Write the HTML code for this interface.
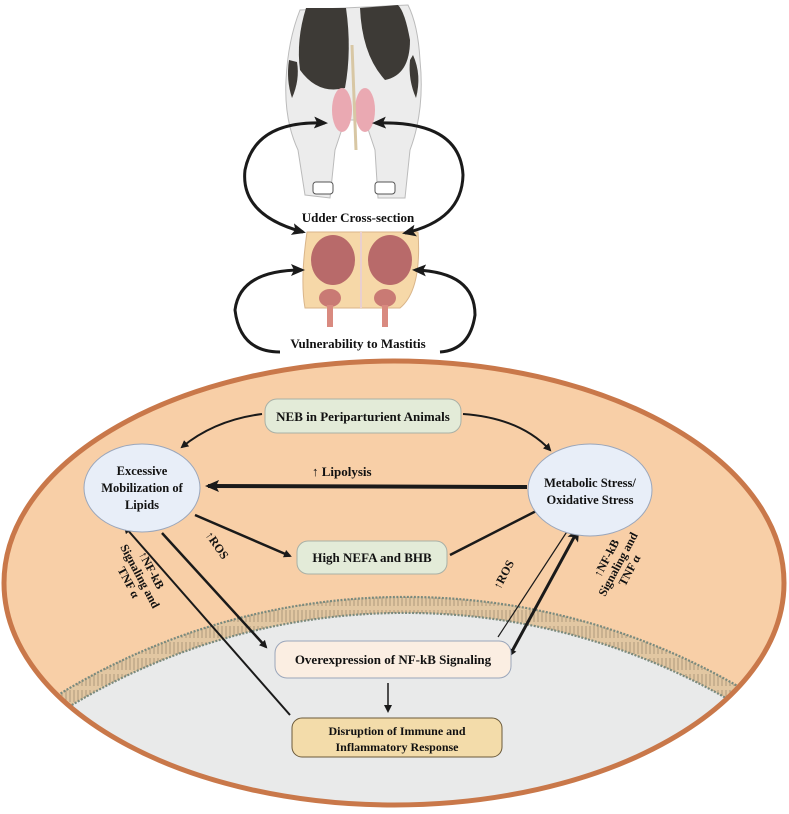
<!DOCTYPE html>
<html><head><meta charset="utf-8"><style>
html,body{margin:0;background:#fff;overflow:hidden;width:789px;height:814px;}
svg{display:block;font-family:"Liberation Serif",serif;font-weight:bold;}
</style></head><body>
<svg width="789" height="814" viewBox="0 0 789 814" xmlns="http://www.w3.org/2000/svg">
<defs>
<marker id="ah" markerWidth="8" markerHeight="8" refX="6" refY="4" orient="auto" markerUnits="userSpaceOnUse"><path d="M0,0 L8,4 L0,8 Z" fill="#1a1a1a"/></marker>
<marker id="ahb" markerWidth="14" markerHeight="12" refX="11" refY="6" orient="auto" markerUnits="userSpaceOnUse"><path d="M0,0 L14,6 L0,12 L3,6 Z" fill="#1a1a1a"/></marker>
<marker id="ahs" markerWidth="14" markerHeight="12" refX="3" refY="6" orient="auto" markerUnits="userSpaceOnUse"><path d="M14,0 L0,6 L14,12 L11,6 Z" fill="#1a1a1a"/></marker>
<clipPath id="ec"><ellipse cx="394" cy="583" rx="390" ry="222"/></clipPath>
<pattern id="mem" width="4" height="16" patternUnits="userSpaceOnUse"><rect width="4" height="16" fill="#e2c7a2"/><line x1="2" y1="2" x2="2" y2="14" stroke="#a89478" stroke-width="0.9"/></pattern>
</defs>

<!-- Cow -->
<g>
<path d="M300,10 Q288,40 286,80 Q284,120 298,150 L305,195 L330,198 L335,150 L345,120 L365,120 L375,150 L378,198 L405,198 L410,150 Q425,110 420,60 Q418,25 408,5 Z" fill="#ececec" stroke="#bbb"/>
<path d="M306,8 Q296,40 300,70 Q318,95 345,88 Q352,50 346,8 Z" fill="#3d3a36"/>
<path d="M360,8 Q362,55 385,80 Q410,75 410,40 Q405,12 398,5 Z" fill="#3d3a36"/>
<path d="M289,60 Q286,80 292,98 Q300,80 297,62 Z" fill="#3d3a36"/>
<path d="M413,55 Q422,75 416,98 Q408,80 410,60Z" fill="#3d3a36"/>
<ellipse cx="342" cy="110" rx="10" ry="22" fill="#eaa9b2"/>
<ellipse cx="365" cy="110" rx="10" ry="22" fill="#eaa9b2"/>
<path d="M352,45 L356,150" stroke="#d8c7a4" stroke-width="3"/>
<rect x="313" y="182" width="20" height="12" rx="3" fill="#fff" stroke="#555"/>
<rect x="375" y="182" width="20" height="12" rx="3" fill="#fff" stroke="#555"/>
</g>
<!-- Udder cross-section -->
<g>
<path d="M307,232 L418,232 Q422,290 400,308 L305,308 Q300,280 307,232Z" fill="#f6d8a8" stroke="#d9b58a"/>
<ellipse cx="333" cy="260" rx="22" ry="25" fill="#b86a6a"/>
<ellipse cx="390" cy="260" rx="22" ry="25" fill="#b86a6a"/>
<ellipse cx="330" cy="298" rx="11" ry="9" fill="#c97a74"/>
<ellipse cx="385" cy="298" rx="11" ry="9" fill="#c97a74"/>
<rect x="327" y="305" width="6" height="22" fill="#d98a80"/>
<rect x="382" y="305" width="6" height="22" fill="#d98a80"/>
<line x1="361" y1="232" x2="361" y2="308" stroke="#e9cfcf" stroke-width="2"/>
</g>
<!-- cow arrows -->
<g fill="none" stroke="#1a1a1a" stroke-width="3">
<path d="M325,123 Q255,120 245,170 Q240,215 303,232" marker-end="url(#ahb)" marker-start="url(#ahs)"/>
<path d="M375,123 Q460,120 463,175 Q462,220 405,233" marker-end="url(#ahb)" marker-start="url(#ahs)"/>
<path d="M302,270 Q240,270 235,310 Q240,352 280,352" marker-start="url(#ahs)"/>
<path d="M415,270 Q475,272 475,315 Q470,350 440,352" marker-start="url(#ahs)"/>
</g>
<text x="358" y="222" font-size="13" text-anchor="middle" fill="#111">Udder Cross-section</text>
<text x="358" y="348" font-size="13" text-anchor="middle" fill="#111">Vulnerability to Mastitis</text>

<!-- Big ellipse -->
<ellipse cx="394" cy="583" rx="390" ry="222" fill="#f8cfa7"/>
<g clip-path="url(#ec)">
<path d="M0,755 A648,648 0 0 1 789,739 L789,810 L0,810 Z" fill="#e9eaea"/>
<path d="M0,745 A656,656 0 0 1 789,729" fill="none" stroke="url(#mem)" stroke-width="16"/>
<path d="M0,735 A664,664 0 0 1 789,719" fill="none" stroke="#7a8a7e" stroke-width="2.2" stroke-dasharray="2 1.5"/>
<path d="M0,755 A648,648 0 0 1 789,739" fill="none" stroke="#7a8a7e" stroke-width="2.2" stroke-dasharray="2 1.5"/>
</g>
<ellipse cx="394" cy="583" rx="390" ry="222" fill="none" stroke="#c9784a" stroke-width="5"/>

<!-- Connectors -->
<g fill="none" stroke="#1a1a1a">
<path d="M262,414 Q215,420 182,447" stroke-width="2" marker-end="url(#ah)"/>
<path d="M463,414 Q520,418 550,450" stroke-width="2" marker-end="url(#ah)"/>
<path d="M527,487 L208,486" stroke-width="4" marker-end="url(#ahb)"/>
<path d="M195,515 L290,556" stroke-width="2.5" marker-end="url(#ah)"/>
<path d="M450,555 L548,505" stroke-width="2.5" marker-end="url(#ah)"/>
<path d="M162,533 L266,647" stroke-width="2.5" marker-end="url(#ah)"/>
<path d="M290,715 L125,527" stroke-width="2" marker-end="url(#ah)"/>
<path d="M498,637 L570,527" stroke-width="1.2" marker-end="url(#ah)"/>
<path d="M578,530 L510,655" stroke-width="3" marker-end="url(#ah)" marker-start="url(#ahs)"/>
<path d="M388,683 L388,711" stroke-width="1.5" marker-end="url(#ah)"/>
</g>

<!-- Nodes -->
<rect x="265" y="399" width="196" height="34" rx="12" fill="#e3ebd8" stroke="#a9b0a6"/>
<text x="363" y="421" font-size="13" text-anchor="middle" fill="#111">NEB in Periparturient Animals</text>
<ellipse cx="142" cy="488" rx="58" ry="44" fill="#e8eef8" stroke="#9aa6bb"/>
<text x="142" y="475" font-size="12.5" text-anchor="middle" fill="#111">Excessive</text>
<text x="142" y="492" font-size="12.5" text-anchor="middle" fill="#111">Mobilization of</text>
<text x="142" y="509" font-size="12.5" text-anchor="middle" fill="#111">Lipids</text>
<ellipse cx="590" cy="490" rx="62" ry="46" fill="#e8eef8" stroke="#9aa6bb"/>
<text x="590" y="487" font-size="12.5" text-anchor="middle" fill="#111">Metabolic Stress/</text>
<text x="590" y="504" font-size="12.5" text-anchor="middle" fill="#111">Oxidative Stress</text>
<text x="312" y="476" font-size="13" fill="#111">↑ Lipolysis</text>
<rect x="297" y="541" width="150" height="33" rx="11" fill="#e3ebd8" stroke="#a9b0a6"/>
<text x="372" y="562" font-size="13" text-anchor="middle" fill="#111">High NEFA and BHB</text>
<rect x="275" y="641" width="236" height="37" rx="12" fill="#fbeee2" stroke="#9aa6bb"/>
<text x="393" y="664" font-size="13" text-anchor="middle" fill="#111">Overexpression of NF-kB Signaling</text>
<rect x="292" y="718" width="210" height="39" rx="10" fill="#f3dcaa" stroke="#6b5a3a"/>
<text x="397" y="735" font-size="12" text-anchor="middle" fill="#111">Disruption of Immune and</text>
<text x="397" y="751" font-size="12" text-anchor="middle" fill="#111">Inflammatory Response</text>

<!-- Rotated labels -->
<text transform="translate(205,535) rotate(55)" font-size="12" fill="#111">↑ROS</text>
<text transform="translate(500,590) rotate(-62)" font-size="12" fill="#111">↑ROS</text>
<g font-size="12" fill="#111" text-anchor="middle">
<text transform="translate(148,572) rotate(62)"><tspan x="0" y="0">↑NF-kB</tspan><tspan x="0" y="13">Signaling and</tspan><tspan x="0" y="26">TNF α</tspan></text>
<text transform="translate(610,560) rotate(-62)"><tspan x="0" y="0">↑NF-kB</tspan><tspan x="0" y="13">Signaling and</tspan><tspan x="0" y="26">TNF α</tspan></text>
</g>
</svg>
</body></html>
